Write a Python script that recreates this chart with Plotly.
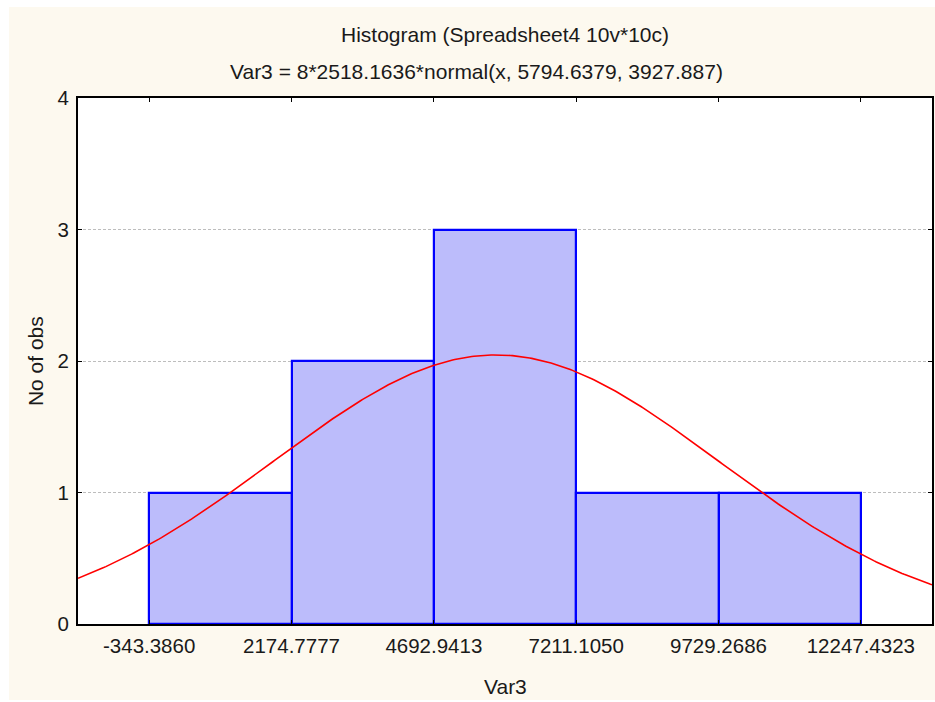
import numpy as np
import plotly.graph_objects as go

# ---- data ----
bin_edges = [-343.3860, 2174.7777, 4692.9413, 7211.1050, 9729.2686, 12247.4323]
counts = [1, 2, 3, 1, 1]
tick_labels = ["-343.3860", "2174.7777", "4692.9413", "7211.1050", "9729.2686", "12247.4323"]
y_ticks = [0, 1, 2, 3, 4]
n_obs = 8
bin_width = 2518.1636
fit_mean = 5794.6379
fit_sd = 3927.887

centers = [(a + b) / 2 for a, b in zip(bin_edges[:-1], bin_edges[1:])]
x_lo = bin_edges[0] - bin_width / 2
x_hi = bin_edges[-1] + bin_width / 2

xs = np.linspace(x_lo, x_hi, 400)
ys = n_obs * bin_width * np.exp(-0.5 * ((xs - fit_mean) / fit_sd) ** 2) / (fit_sd * np.sqrt(2 * np.pi))

FONT = "Liberation Sans, Arial, sans-serif"
TXT = "#1a1a1a"

fig = go.Figure()
fig.add_trace(go.Bar(
    x=centers, y=counts, width=[bin_width] * len(counts),
    marker=dict(color="#bcbcfb", line=dict(color="#0000ff", width=2.2)),
    hoverinfo="skip", showlegend=False,
))
fig.add_trace(go.Scatter(x=xs, y=ys, mode="lines", line=dict(color="#ff0000", width=1.6),
                         hoverinfo="skip", showlegend=False))

# figure placed at (9,7) of the window via body margin, spanning to (935,700)
OFFX, OFFY = 9, 7
W, H = 935 - OFFX, 700 - OFFY
L, R, T, B = 78 - OFFX, 1, 98 - OFFY, 700 - 624
pw, ph = W - L - R, H - T - B

def px_x(p):
    return (p - OFFX - L) / pw

def px_y(p):
    return (H - B - (p - OFFY)) / ph

annotations = [
    dict(text="Histogram (Spreadsheet4 10v*10c)", xref="paper", yref="paper", x=px_x(506), y=px_y(35),
         showarrow=False, font=dict(family=FONT, size=21, color=TXT), xanchor="center", yanchor="middle"),
    dict(text="Var3 = 8*2518.1636*normal(x, 5794.6379, 3927.887)", xref="paper", yref="paper", x=px_x(477), y=px_y(72),
         showarrow=False, font=dict(family=FONT, size=21, color=TXT), xanchor="center", yanchor="middle"),
    dict(text="No of obs", xref="paper", yref="paper", x=px_x(35), y=px_y(361), textangle=-90,
         showarrow=False, font=dict(family=FONT, size=21, color=TXT), xanchor="center", yanchor="middle"),
    dict(text="Var3", xref="paper", yref="paper", x=px_x(506), y=px_y(686),
         showarrow=False, font=dict(family=FONT, size=21, color=TXT), xanchor="center", yanchor="middle"),
]

fig.update_layout(
    width=W, height=H,
    margin=dict(l=L, r=R, t=T, b=B),
    paper_bgcolor="#fdf9ef", plot_bgcolor="#ffffff",
    annotations=annotations,
    bargap=0,
    xaxis=dict(range=[x_lo, x_hi], tickvals=bin_edges, ticktext=tick_labels,
               showgrid=False, zeroline=False, showline=True, linecolor="#000000", linewidth=2,
               mirror="ticks", ticks="inside", ticklen=4, tickcolor="#000000", tickwidth=1,
               tickfont=dict(family=FONT, size=20.5, color=TXT), ticklabelstandoff=2),
    yaxis=dict(range=[0, 4], tickvals=y_ticks, showgrid=True, gridcolor="#bdbdbd", griddash="3px,2px",
               gridwidth=1, zeroline=False, showline=True, linecolor="#000000", linewidth=2,
               mirror="ticks", ticks="inside", ticklen=4, tickcolor="#000000", tickwidth=1,
               tickfont=dict(family=FONT, size=20.5, color=TXT), ticklabelstandoff=3),
    font=dict(family=FONT, color=TXT),
)

fig.write_html(
    "out.html",
    post_script="document.body.style.margin='%dpx 0 0 %dpx';document.body.style.overflow='hidden';" % (OFFY, OFFX),
)
